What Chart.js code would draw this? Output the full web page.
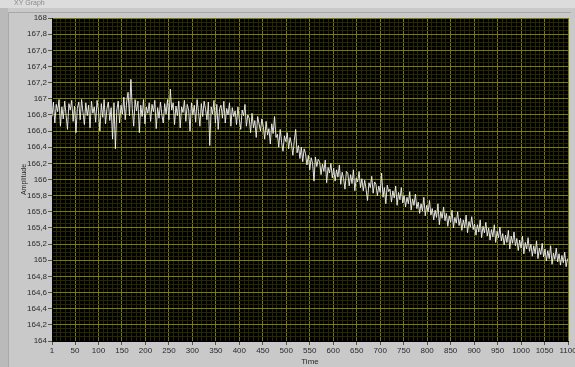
<!DOCTYPE html>
<html>
<head>
<meta charset="utf-8">
<script src="https://cdn.jsdelivr.net/npm/chart.js@4/dist/chart.umd.min.js"></script>
<style>
  html, body { margin: 0; padding: 0; background: #c9c9c9; }
  #graph { display: block; }
</style>
</head>
<body>
<canvas id="graph" width="575" height="367"></canvas>
<script>
// axis ticks (major)
const xMajorTicks = [1, 50, 100, 150, 200, 250, 300, 350, 400, 450, 500, 550,
  600, 650, 700, 750, 800, 850, 900, 950, 1000, 1050, 1100];
const yMajorTicks = [164, 164.2, 164.4, 164.6, 164.8, 165, 165.2, 165.4, 165.6, 165.8,
  166, 166.2, 166.4, 166.6, 166.8, 167, 167.2, 167.4, 167.6, 167.8, 168];

// amplitude, one sample every 3 time units starting at 1
const sampleStart = 1;
const sampleStep = 3;
const amplitude = [
  166.78, 166.96, 166.70, 166.93, 166.84, 166.99, 166.66, 166.90, 166.75, 166.97,
  166.80, 166.62, 166.94, 166.86, 166.98, 166.72, 166.91, 166.58, 166.88, 166.96,
  166.74, 166.99, 166.83, 166.68, 166.95, 166.79, 166.92, 166.64, 166.97, 166.82,
  166.90, 166.71, 166.98, 166.85, 166.60, 166.94, 166.77, 166.99, 166.69, 166.88,
  166.96, 166.73, 166.89, 166.50, 166.95, 166.38, 166.86, 166.97, 166.70, 166.92,
  166.81, 167.02, 166.74, 166.96, 167.08, 166.79, 167.24, 166.88, 166.66, 166.99,
  166.85, 166.97, 166.58, 166.92, 166.78, 166.99, 166.69, 166.90, 166.82, 166.95,
  166.72, 166.93, 166.84, 166.98, 166.63, 166.89, 166.76, 166.96, 166.80, 166.70,
  166.94, 166.81, 166.99, 166.74, 167.12, 166.86, 166.95, 166.68, 166.91, 166.79,
  166.97, 166.64, 166.90, 166.83, 166.98, 166.72, 166.93, 166.86, 166.60, 166.95,
  166.80, 166.92, 166.71, 166.99, 166.84, 166.66, 166.94, 166.78, 166.97, 166.87,
  166.74, 166.96, 166.42, 166.90, 166.81, 166.98, 166.70, 166.93, 166.62, 166.88,
  166.92, 166.76, 166.97, 166.70, 166.88, 166.80, 166.95, 166.66, 166.89, 166.78,
  166.85, 166.68, 166.90, 166.74, 166.62, 166.86, 166.79, 166.93, 166.66, 166.80,
  166.76, 166.58, 166.82, 166.64, 166.73, 166.52, 166.78, 166.69, 166.60, 166.75,
  166.66, 166.50, 166.72, 166.55, 166.63, 166.44, 166.69, 166.57, 166.78, 166.52,
  166.56, 166.40, 166.62, 166.46, 166.35, 166.54, 166.47, 166.58, 166.38, 166.52,
  166.44, 166.30, 166.48, 166.62, 166.33, 166.42, 166.26, 166.40, 166.22, 166.38,
  166.32, 166.18, 166.30, 166.12, 166.27, 166.20, 165.98, 166.28, 166.16, 166.25,
  166.22, 166.06, 166.19, 166.10, 166.24, 165.96, 166.15, 166.08, 166.20, 166.02,
  166.14, 165.98, 166.12, 166.03, 166.18, 165.94, 166.09, 166.01, 165.88, 166.10,
  166.08, 165.92, 166.06, 165.95, 166.12, 165.86, 166.02, 165.97, 166.10, 165.90,
  166.01, 165.86, 165.99, 165.88, 165.74, 165.96, 165.90, 166.04, 165.83, 165.97,
  165.94, 165.80, 165.92, 165.84, 166.08, 165.78, 165.90, 165.70, 165.93, 165.85,
  165.88, 165.72, 165.86, 165.77, 165.92, 165.68, 165.84, 165.75, 165.90, 165.71,
  165.80, 165.66, 165.78, 165.70, 165.85, 165.62, 165.76, 165.68, 165.82, 165.64,
  165.72, 165.58, 165.70, 165.61, 165.78, 165.55, 165.68, 165.60, 165.74, 165.56,
  165.64, 165.50, 165.62, 165.53, 165.70, 165.44, 165.60, 165.52, 165.66, 165.49,
  165.58, 165.42, 165.55, 165.47, 165.62, 165.40, 165.53, 165.46, 165.60, 165.43,
  165.52, 165.37, 165.50, 165.40, 165.56, 165.34, 165.48, 165.41, 165.54, 165.38,
  165.45, 165.31, 165.44, 165.35, 165.50, 165.28, 165.42, 165.34, 165.47, 165.30,
  165.40, 165.25, 165.38, 165.29, 165.44, 165.22, 165.36, 165.28, 165.41, 165.24,
  165.33, 165.19, 165.31, 165.22, 165.37, 165.14, 165.30, 165.21, 165.35, 165.18,
  165.27, 165.12, 165.25, 165.15, 165.30, 165.08, 165.22, 165.14, 165.28, 165.11,
  165.20, 165.05, 165.18, 165.08, 165.24, 165.02, 165.15, 165.07, 165.21, 165.04,
  165.14, 164.99, 165.12, 165.02, 165.18, 164.95, 165.09, 165.01, 165.15, 164.98,
  165.08, 164.94, 165.06, 164.97, 165.10, 164.92, 165.02
];

const points = amplitude.map((v, i) => ({ x: sampleStart + i * sampleStep, y: v }));

const majorGrid = '#7c7c00';
const minorGrid = '#282800';
const labelFont = { family: "'Liberation Sans Narrow', 'Liberation Sans', sans-serif", size: 8 };

const near = (a, b) => Math.abs(a - b) < 1e-6;
const isXMajor = v => xMajorTicks.some(t => near(t, v));
const isYMajor = v => yMajorTicks.some(t => near(t, v));
const commaLabel = v => String(Math.round(v * 10) / 10).replace('.', ',');

// panel look: gray frame, black plot area
const panel = {
  id: 'panel',
  beforeDraw(chart) {
    const { ctx, chartArea: a, width, height } = chart;
    ctx.save();
    ctx.fillStyle = '#c9c9c9';
    ctx.fillRect(0, 0, width, height);
    ctx.fillStyle = '#dcdcdc';
    ctx.fillRect(0, 0, width, 8);
    ctx.fillStyle = '#bababa';
    ctx.fillRect(0, 8, 8, height - 8);
    ctx.strokeStyle = '#a8a8a8';
    ctx.beginPath();
    ctx.moveTo(8.5, height);
    ctx.lineTo(8.5, 12.5);
    ctx.lineTo(width - 4, 12.5);
    ctx.stroke();
    ctx.fillStyle = '#8a8a8a';
    ctx.font = "7px 'Liberation Sans Narrow', sans-serif";
    ctx.fillText('XY Graph', 14, 5);
    ctx.fillStyle = '#000';
    ctx.fillRect(a.left, a.top, a.right - a.left, a.bottom - a.top);
    ctx.restore();
  }
};

new Chart(document.getElementById('graph'), {
  type: 'line',
  data: {
    datasets: [{
      label: 'Amplitude',
      data: points,
      borderColor: 'rgba(242,242,242,0.92)',
      borderWidth: 1,
      pointRadius: 0,
      tension: 0
    }]
  },
  options: {
    responsive: false,
    animation: false,
    layout: { padding: { left: 0, right: 7, top: 18, bottom: 0 } },
    plugins: {
      legend: { display: false },
      tooltip: { enabled: false }
    },
    scales: {
      x: {
        type: 'linear',
        min: 1,
        max: 1100,
        afterBuildTicks(scale) {
          const t = [1];
          for (let v = 10; v <= 1100; v += 10) t.push(v);
          scale.ticks = t.map(v => ({ value: v }));
        },
        afterFit(scale) {
          scale.height = 26;
          scale.paddingLeft = 0;
          scale.paddingRight = 0;
        },
        ticks: {
          autoSkip: false,
          maxRotation: 0,
          padding: 1,
          color: '#2a2a2a',
          font: labelFont,
          callback: v => isXMajor(v) ? String(v) : ''
        },
        grid: {
          color: c => isXMajor(c.tick.value) ? majorGrid : minorGrid,
          tickColor: c => isXMajor(c.tick.value) ? '#555' : 'rgba(0,0,0,0)',
          tickLength: 4,
          lineWidth: 1
        },
        border: { color: '#000' },
        title: {
          display: true,
          text: 'Time',
          color: '#2a2a2a',
          font: labelFont,
          padding: { top: 1, bottom: 0 }
        }
      },
      y: {
        min: 164,
        max: 168,
        afterBuildTicks(scale) {
          const t = [];
          for (let i = 0; i <= 80; i++) t.push(164 + i * 0.05);
          scale.ticks = t.map(v => ({ value: v }));
        },
        afterFit(scale) { scale.width = 52; },
        ticks: {
          autoSkip: false,
          padding: 1,
          color: '#2a2a2a',
          font: labelFont,
          callback: v => isYMajor(v) ? commaLabel(v) : ''
        },
        grid: {
          color: c => isYMajor(c.tick.value) ? majorGrid : minorGrid,
          tickColor: c => isYMajor(c.tick.value) ? '#555' : 'rgba(0,0,0,0)',
          tickLength: 4,
          lineWidth: 1
        },
        border: { color: '#000' },
        title: {
          display: true,
          text: 'Amplitude',
          color: '#2a2a2a',
          font: { family: labelFont.family, size: 7 },
          padding: { top: 20, bottom: 0 }
        }
      }
    }
  },
  plugins: [panel]
});
</script>
</body>
</html>
